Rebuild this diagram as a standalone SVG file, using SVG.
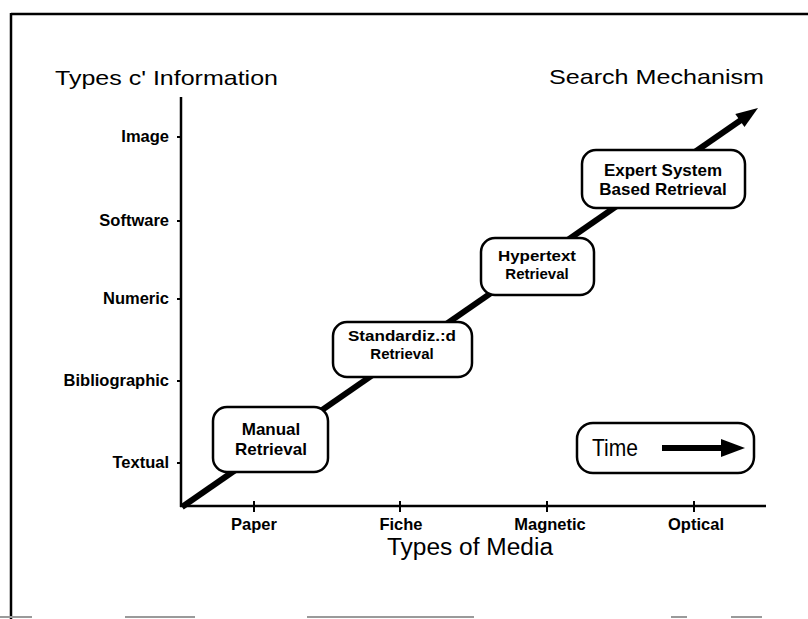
<svg xmlns="http://www.w3.org/2000/svg" width="808" height="619" viewBox="0 0 808 619">
<style>
  .frame { stroke: #000; stroke-width: 2.5; fill: none; }
  .scan { stroke: #9a9a9a; stroke-width: 2; fill: none; }
  .axis { stroke: #000; stroke-width: 2.5; fill: none; }
  .tick { stroke: #000; stroke-width: 2; }
  .title { font-family: "Liberation Sans", Arial, sans-serif; font-size: 21px; fill: #000; }
  .lbl { font-family: "Liberation Sans", Arial, sans-serif; font-size: 16.5px; font-weight: bold; fill: #000; }
  .box { fill: #fff; stroke: #000; stroke-width: 2.5; }
  .btxt { font-family: "Liberation Sans", Arial, sans-serif; font-size: 17px; font-weight: bold; fill: #000; text-anchor: middle; }
  .btxs { font-family: "Liberation Sans", Arial, sans-serif; font-size: 15px; font-weight: bold; fill: #000; text-anchor: middle; }
  .trend { stroke: #000; stroke-width: 6; fill: none; }
</style>
<rect x="0" y="0" width="808" height="619" fill="#fff"/>
<g id="frame">
  <line class="frame" x1="11" y1="14" x2="808" y2="14"/>
  <line class="frame" x1="11" y1="13" x2="11" y2="619"/>
  <line class="scan" x1="0" y1="617" x2="32" y2="617"/>
  <line class="scan" x1="125" y1="617" x2="195" y2="617"/>
  <line class="scan" x1="307" y1="617" x2="474" y2="617"/>
  <line class="scan" x1="671" y1="617" x2="687" y2="617"/>
  <line class="scan" x1="731" y1="617" x2="762" y2="617"/>
</g>
<g id="titles">
  <text class="title" x="55" y="85" textLength="223" lengthAdjust="spacingAndGlyphs">Types c' Information</text>
  <text class="title" x="549" y="84" textLength="215" lengthAdjust="spacingAndGlyphs">Search Mechanism</text>
  <text class="title" x="387" y="555" textLength="166" lengthAdjust="spacingAndGlyphs" style="font-size:23px">Types of Media</text>
</g>
<g id="axes">
  <line class="axis" x1="181" y1="97" x2="181" y2="507"/>
  <line class="axis" x1="180" y1="506" x2="766" y2="506"/>
  <line class="tick" x1="177" y1="137" x2="181" y2="137"/>
  <line class="tick" x1="177" y1="221" x2="181" y2="221"/>
  <line class="tick" x1="177" y1="299" x2="181" y2="299"/>
  <line class="tick" x1="177" y1="381" x2="181" y2="381"/>
  <line class="tick" x1="177" y1="463" x2="181" y2="463"/>
  <line class="tick" x1="254" y1="501" x2="254" y2="512"/>
  <line class="tick" x1="400" y1="501" x2="400" y2="512"/>
  <line class="tick" x1="547" y1="501" x2="547" y2="512"/>
  <line class="tick" x1="694" y1="501" x2="694" y2="512"/>
  <g text-anchor="end">
    <text class="lbl" x="169" y="142">Image</text>
    <text class="lbl" x="169" y="226">Software</text>
    <text class="lbl" x="169" y="304">Numeric</text>
    <text class="lbl" x="169" y="386">Bibliographic</text>
    <text class="lbl" x="169" y="468">Textual</text>
  </g>
  <g text-anchor="middle">
    <text class="lbl" x="254" y="530">Paper</text>
    <text class="lbl" x="401" y="530">Fiche</text>
    <text class="lbl" x="550" y="530">Magnetic</text>
    <text class="lbl" x="696" y="530">Optical</text>
  </g>
</g>
<g id="connectors">
  <line class="trend" x1="182" y1="507" x2="741" y2="120"/>
  <polygon points="758,108 744.5,127.1 735.3,113.9" fill="#000"/>
</g>
<g id="manual">
  <rect class="box" x="213" y="407" width="115" height="65" rx="14"/>
  <text class="btxt" x="271" y="435">Manual</text>
  <text class="btxt" x="271" y="455">Retrieval</text>
</g>
<g id="standardized">
  <rect class="box" x="333" y="322" width="139" height="55" rx="14"/>
  <text class="btxs" x="402" y="341" textLength="108" lengthAdjust="spacingAndGlyphs">Standardiz.:d</text>
  <text class="btxs" x="402" y="359">Retrieval</text>
</g>
<g id="hypertext">
  <rect class="box" x="481" y="238" width="113" height="57" rx="14"/>
  <text class="btxs" x="537" y="261" textLength="78" lengthAdjust="spacingAndGlyphs">Hypertext</text>
  <text class="btxs" x="537" y="279">Retrieval</text>
</g>
<g id="expert">
  <rect class="box" x="582" y="150" width="163" height="58" rx="14"/>
  <text class="btxt" x="663" y="176">Expert System</text>
  <text class="btxt" x="663" y="195">Based Retrieval</text>
</g>
<g id="time">
  <rect class="box" x="577" y="423" width="177" height="50" rx="16"/>
  <text class="title" x="592" y="456" textLength="46" lengthAdjust="spacingAndGlyphs" style="font-size:24px">Time</text>
  <line stroke="#000" stroke-width="6" x1="662" y1="448" x2="724" y2="448"/>
  <polygon points="721,439 745,448 721,457" fill="#000"/>
</g>
</svg>
